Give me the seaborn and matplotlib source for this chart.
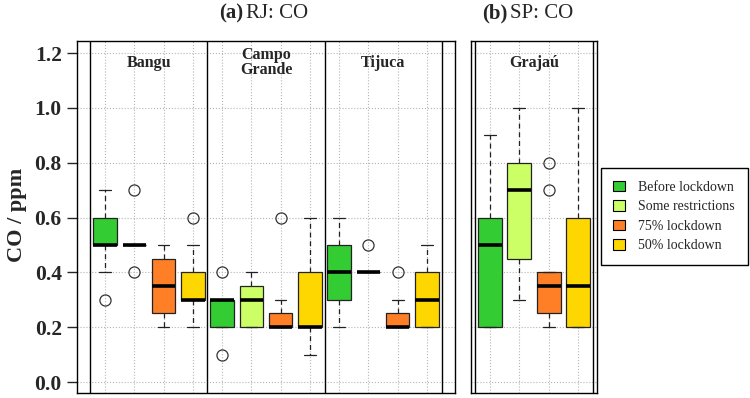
import numpy as np
import pandas as pd
import matplotlib
matplotlib.use("Agg")
import matplotlib.pyplot as plt
import seaborn as sns
from matplotlib.patches import Patch

sns.set_style("ticks")
plt.rcParams['font.family'] = ['Liberation Serif', 'DejaVu Serif']

# --- data -------------------------------------------------------------
phases = ["Before lockdown", "Some restrictions", "75% lockdown", "50% lockdown"]
colors = ["#33cc33", "#ccff66", "#ff7f27", "#ffd700"]

rj_sites = ["Bangu", "Campo\nGrande", "Tijuca"]
sp_sites = ["Grajaú"]

# CO samples (ppm), one list per phase, in the order of `phases`
bangu = [
    [0.3, 0.4, 0.5, 0.5, 0.5, 0.6, 0.6, 0.6, 0.7],
    [0.4, 0.5, 0.5, 0.5, 0.5, 0.5, 0.5, 0.5, 0.7],
    [0.2, 0.2, 0.25, 0.3, 0.35, 0.4, 0.45, 0.5, 0.5],
    [0.2, 0.3, 0.3, 0.3, 0.3, 0.4, 0.4, 0.5, 0.6],
]
campo_grande = [
    [0.1, 0.2, 0.2, 0.2, 0.3, 0.3, 0.3, 0.3, 0.4],
    [0.2, 0.2, 0.2, 0.25, 0.3, 0.3, 0.35, 0.4, 0.4],
    [0.2, 0.2, 0.2, 0.2, 0.2, 0.25, 0.25, 0.3, 0.6],
    [0.1, 0.2, 0.2, 0.2, 0.2, 0.3, 0.4, 0.5, 0.6],
]
tijuca = [
    [0.2, 0.3, 0.3, 0.4, 0.4, 0.4, 0.5, 0.5, 0.6],
    [0.4, 0.4, 0.4, 0.4, 0.4, 0.4, 0.4, 0.4, 0.5],
    [0.2, 0.2, 0.2, 0.2, 0.2, 0.25, 0.25, 0.3, 0.4],
    [0.2, 0.2, 0.2, 0.3, 0.3, 0.3, 0.4, 0.5, 0.5],
]
grajau = [
    [0.2, 0.2, 0.2, 0.4, 0.5, 0.6, 0.6, 0.8, 0.9],
    [0.3, 0.4, 0.45, 0.6, 0.7, 0.8, 0.8, 0.9, 1.0],
    [0.2, 0.25, 0.25, 0.3, 0.35, 0.4, 0.4, 0.7, 0.8],
    [0.2, 0.2, 0.2, 0.3, 0.35, 0.5, 0.6, 0.8, 1.0],
]

rows = []
for site, lists in zip(rj_sites + sp_sites, [bangu, campo_grande, tijuca, grajau]):
    for phase, vals in zip(phases, lists):
        for v in vals:
            rows.append({"site": site, "phase": phase, "co": v})
df = pd.DataFrame(rows)

# Campo Grande "before" box flags its extremes as outliers (tighter whisker rule)
tight = (df["site"] == "Campo\nGrande") & (df["phase"] == "Before lockdown")


def draw(ax, data, order, whis):
    sns.boxplot(data=data, x="site", y="co", hue="phase", order=order,
                hue_order=phases, palette=colors, saturation=1, dodge=True,
                width=1.0, gap=0.2, whis=whis,
                linecolor="#222222", linewidth=0.9, fliersize=8,
                whiskerprops=dict(linestyle=(0, (4, 3))),
                medianprops=dict(color="black", linewidth=2.6),
                flierprops=dict(marker="o", markerfacecolor="none",
                                markeredgecolor="#333333", markeredgewidth=0.9),
                legend=False, ax=ax)


fig = plt.figure(figsize=(7.5, 3.98), dpi=100)
ax1 = fig.add_axes([77 / 750, 5 / 398, 378 / 750, 352 / 398])
ax2 = fig.add_axes([471 / 750, 5 / 398, 126 / 750, 352 / 398])

rj = df[df["site"].isin(rj_sites)]
draw(ax1, rj[~tight.loc[rj.index]], rj_sites, 1.5)
draw(ax1, rj[tight.loc[rj.index]], rj_sites, 0.5)
draw(ax2, df[df["site"].isin(sp_sites)], sp_sites, 1.5)

for ax, sites, xlim in [(ax1, rj_sites, (-0.615, len(rj_sites) - 0.385)),
                        (ax2, sp_sites, (-0.534, 0.534))]:
    centers = [i + (j - 1.5) * 0.25 for i in range(len(sites)) for j in range(len(phases))]
    ax.set_xlim(*xlim)
    ax.set_ylim(-0.04, 1.244)
    ax.set_xticks(centers)
    ax.set_xticklabels([])
    ax.set_yticks(np.arange(0, 1.21, 0.2))
    ax.tick_params(axis="x", length=0)
    ax.grid(True, linestyle=":", color="#b5b5b5", linewidth=0.8)
    ax.set_axisbelow(True)
    ax.set_xlabel("")
    ax.set_ylabel("")
    for s in np.arange(-0.5, len(sites), 1.0):
        ax.axvline(s, color="black", linewidth=1.0)
    for sp in ax.spines.values():
        sp.set_color("black")
        sp.set_linewidth(1.0)
    for i, site in enumerate(sites):
        ax.text(i, 1.165, site, ha="center", va="center", fontsize=11.5,
                fontweight="bold", linespacing=0.95)

ax1.set_yticklabels([f"{v:.1f}" for v in np.arange(0, 1.21, 0.2)],
                    fontsize=15.5, fontweight="bold")
ax1.tick_params(axis="y", direction="out", length=7, width=1, pad=4)
ax2.set_yticklabels([])
ax2.tick_params(axis="y", length=0)

fig.text(17 / 750, 0.46, "CO / ppm", rotation=90, ha="center", va="center",
         fontsize=16, fontweight="bold")

fig.text(243.5 / 750, 0.965, "(a)", ha="right", va="center", fontsize=15, fontweight="bold")
fig.text(246 / 750, 0.965, "RJ: CO", ha="left", va="center", fontsize=15)
fig.text(507.5 / 750, 0.965, "(b)", ha="right", va="center", fontsize=15, fontweight="bold")
fig.text(510 / 750, 0.965, "SP: CO", ha="left", va="center", fontsize=15)

handles = [Patch(facecolor=c, edgecolor="black", linewidth=0.8, label=p)
           for c, p in zip(colors, phases)]
fig.legend(handles=handles, loc="center", bbox_to_anchor=(0.899, 0.456),
           frameon=True, fancybox=False, edgecolor="black", framealpha=1,
           fontsize=10, handlelength=0.8, handleheight=0.8, borderpad=0.9,
           labelspacing=0.45, handletextpad=1.0)

fig.savefig("out.png", dpi=100)
